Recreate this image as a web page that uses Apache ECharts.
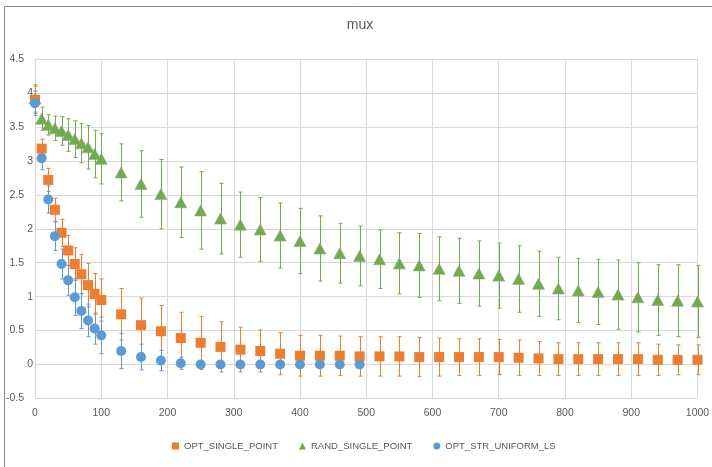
<!DOCTYPE html>
<html><head><meta charset="utf-8">
<script src="https://cdn.jsdelivr.net/npm/echarts@6/dist/echarts.min.js"></script>
<style>html,body{margin:0;padding:0;background:#fff}#c{width:712px;height:467px}</style>
</head><body><div id="c"></div>
<script>
const titleText = 'mux';
const seriesNames = ['OPT_SINGLE_POINT', 'RAND_SINGLE_POINT', 'OPT_STR_UNIFORM_LS'];
const xValues = [0,10,20,30,40,50,60,70,80,90,100,130,160,190,220,250,280,310,340,370,400,430,460,490,520,550,580,610,640,670,700,730,760,790,820,850,880,910,940,970,1000];

const optSingleY = [3.90,3.18,2.72,2.28,1.94,1.68,1.48,1.33,1.17,1.04,0.95,0.74,0.58,0.49,0.39,0.32,0.26,0.22,0.20,0.16,0.13,0.13,0.13,0.12,0.12,0.12,0.11,0.11,0.11,0.11,0.11,0.10,0.09,0.08,0.08,0.08,0.08,0.08,0.07,0.07,0.07];
const optSingleErr = [0.20,0.14,0.17,0.17,0.20,0.22,0.24,0.29,0.32,0.30,0.31,0.38,0.40,0.38,0.38,0.39,0.37,0.33,0.31,0.31,0.30,0.30,0.29,0.29,0.29,0.29,0.29,0.28,0.27,0.27,0.26,0.26,0.25,0.24,0.24,0.24,0.24,0.24,0.23,0.22,0.22];

const randSingleY = [3.92,3.62,3.53,3.48,3.44,3.38,3.32,3.26,3.20,3.10,3.03,2.83,2.66,2.51,2.39,2.27,2.15,2.06,1.99,1.90,1.82,1.71,1.64,1.60,1.55,1.49,1.46,1.41,1.38,1.34,1.31,1.26,1.19,1.12,1.09,1.07,1.03,0.99,0.95,0.94,0.93];
const randSingleErr = [0.20,0.17,0.15,0.18,0.21,0.24,0.27,0.29,0.32,0.35,0.37,0.42,0.49,0.51,0.52,0.57,0.52,0.48,0.47,0.48,0.48,0.48,0.44,0.44,0.43,0.45,0.47,0.47,0.48,0.48,0.48,0.49,0.48,0.46,0.47,0.48,0.51,0.51,0.52,0.53,0.53];

const optStrY = [3.85,3.04,2.43,1.89,1.48,1.24,0.99,0.79,0.65,0.53,0.43,0.20,0.11,0.06,0.02,0.00,0.00,0.00,0.00,0.00,0.00,0.00,0.00,0.00];
const optStrErr = [0.18,0.17,0.20,0.21,0.22,0.22,0.27,0.26,0.24,0.23,0.27,0.26,0.19,0.15,0.09,0.04,0.04,0.04,0.04,0.04,0.04,0.04,0.04,0.04];

const colors = ['#ED7D31', '#70AD47', '#5B9BD5'];

function pts(ys){ return ys.map((y,i)=>[xValues[i], y]); }
function errs(ys, es){ return ys.map((y,i)=>[xValues[i], y-es[i], y+es[i]]); }
function errSeries(data, color){
  return {
    type:'custom', name:'err', data:data, z:1, silent:true,
    encode:{x:0, y:[1,2]},
    renderItem:function(params, api){
      const x = api.value(0);
      const lo = api.coord([x, api.value(1)]);
      const hi = api.coord([x, api.value(2)]);
      const px = Math.round(lo[0]) + 0.5;
      const st = {stroke:color, lineWidth:1};
      return {type:'group', children:[
        {type:'line', shape:{x1:px, y1:lo[1], x2:px, y2:hi[1]}, style:st},
        {type:'line', shape:{x1:px-2, y1:lo[1], x2:px+2, y2:lo[1]}, style:st},
        {type:'line', shape:{x1:px-2, y1:hi[1], x2:px+2, y2:hi[1]}, style:st}
      ]};
    }
  };
}

const chart = echarts.init(document.getElementById('c'));
const lab = {color:'#595959', fontSize:10.5, fontFamily:'Liberation Sans'};
chart.setOption({
  animation:false,
  backgroundColor:'#fff',
  graphic:[{type:'rect', shape:{x:4.5, y:6.5, width:800, height:600}, style:{fill:null, stroke:'#8a8a8a', lineWidth:1}, z:0}],
  title:{text:titleText, left:360, textAlign:'center', top:18, padding:0,
    textStyle:{color:'#595959', fontSize:14, fontWeight:'normal', fontFamily:'Liberation Sans'}},
  grid:{left:35, right:14.5, top:59, bottom:68.5, containLabel:false, outerBoundsMode:'none'},
  xAxis:{type:'value', min:0, max:1000, interval:100,
    axisLine:{show:false}, axisTick:{show:false},
    axisLabel:Object.assign({margin:9, formatter:function(v){ return String(v); }}, lab),
    splitLine:{show:true, lineStyle:{color:'#d9d9d9', width:1}}},
  yAxis:{type:'value', min:-0.5, max:4.5, interval:0.5,
    axisLine:{show:false}, axisTick:{show:false},
    axisLabel:Object.assign({margin:2,
      formatter:function(v){ return Number.isInteger(v) ? String(v) : '{d|' + v + '}'; },
      rich:{d:{padding:[0,9,0,0], color:'#595959', fontSize:10.5, fontFamily:'Liberation Sans'}}}, lab),
    splitLine:{show:true, lineStyle:{color:'#d9d9d9', width:1}}},
  legend:{
    data:[
      {name:seriesNames[0], icon:'rect', itemStyle:{borderWidth:0}},
      {name:seriesNames[1], icon:'triangle', itemStyle:{borderWidth:0}},
      {name:seriesNames[2], icon:'circle', itemStyle:{borderWidth:0}}
    ],
    left:172, top:441, padding:0, itemWidth:7, itemHeight:7, itemGap:21,
    textStyle:{color:'#595959', fontSize:9.5, fontFamily:'Liberation Sans'}},
  series:[
    errSeries(errs(randSingleY, randSingleErr), colors[1]),
    errSeries(errs(optSingleY, optSingleErr), colors[0]),
    errSeries(errs(optStrY, optStrErr), colors[2]),
    {type:'scatter', name:seriesNames[1], data:pts(randSingleY), symbol:'triangle', symbolSize:[12,11], z:2,
      itemStyle:{color:colors[1], borderColor:'#9a9a9a', borderWidth:0.6, opacity:1}},
    {type:'scatter', name:seriesNames[0], data:pts(optSingleY), symbol:'rect', symbolSize:10, z:3,
      itemStyle:{color:colors[0], opacity:1}},
    {type:'scatter', name:seriesNames[2], data:pts(optStrY), symbol:'circle', symbolSize:10, z:4,
      itemStyle:{color:colors[2], opacity:1}}
  ]
});
</script></body></html>
